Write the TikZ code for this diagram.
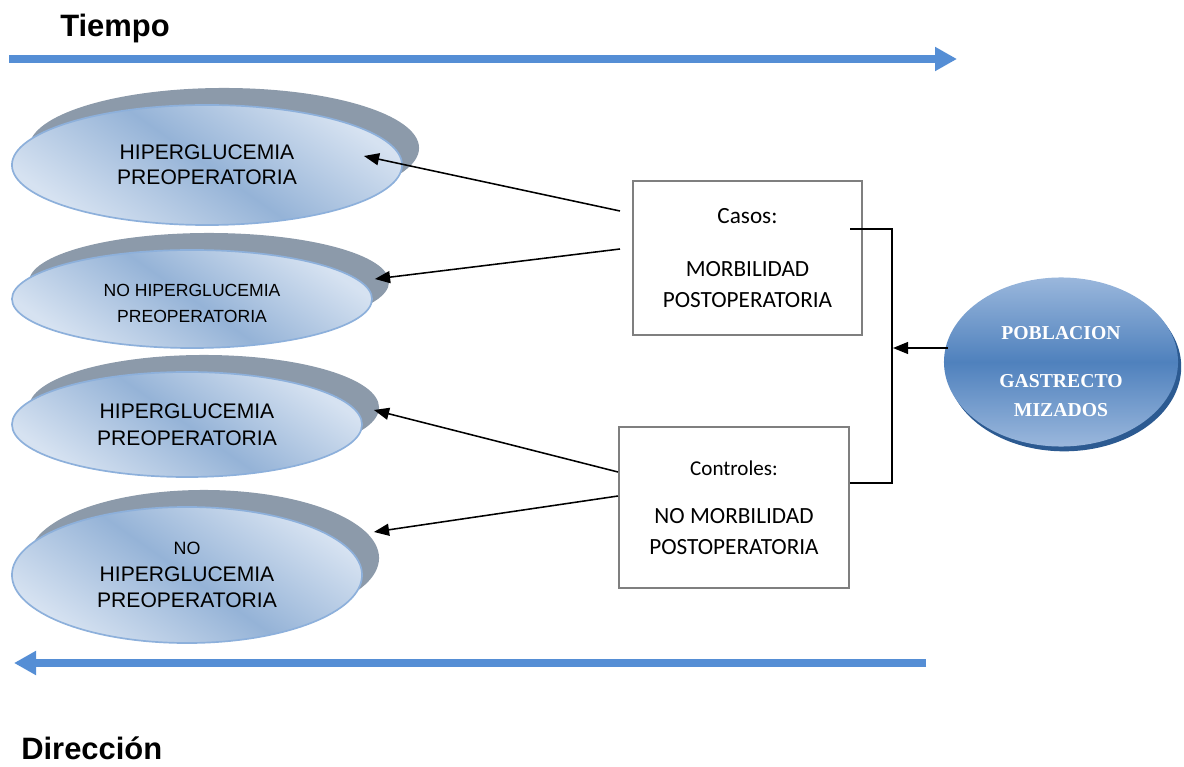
\documentclass[tikz,border=0pt]{standalone}
\usepackage{fontspec}
\setmainfont{Liberation Sans}
\newfontfamily\calibri{Carlito}
\newfontfamily\cambria{Liberation Serif}
\usetikzlibrary{shapes, arrows.meta, shadows}

\definecolor{ellLight}{HTML}{D6E2F1}
\definecolor{ellDark}{HTML}{95B3D7}
\definecolor{ellLine}{HTML}{8DB0DB}
\definecolor{shadowGray}{HTML}{8C9AAA}
\definecolor{arrowBlue}{HTML}{558ED5}
\definecolor{popTop}{HTML}{9AB7DC}
\definecolor{popMid}{HTML}{4F81BD}
\definecolor{popShadow}{HTML}{2C5A91}
\definecolor{boxLine}{HTML}{7F7F7F}

\begin{document}
\begin{tikzpicture}[x=0.025cm, y=-0.025cm,
    ->,
    >={Triangle[length=0.38cm, width=0.3cm]},
    every edge/.style={draw, line width=1.1pt},
    ell/.style={%
      ellipse, draw=ellLine, line width=1.2pt, inner sep=0pt,
      top color=ellLight, bottom color=ellLight, middle color=ellDark,
      shading angle=-35, align=center,
      general shadow={fill=shadowGray, shadow xshift=0.425cm, shadow yshift=0.425cm}
    },
    bb/.style={%
      rectangle, draw=boxLine, line width=1.4pt, fill=white,
      inner sep=0pt, align=center, font=\calibri\fontsize{16.5}{22}\selectfont
    },
    pop/.style={%
      ellipse, draw=none, inner sep=0pt, align=center, text=white,
      top color=popTop, bottom color=popTop, middle color=popMid,
      general shadow={fill=popShadow, shadow xshift=0.08cm, shadow yshift=-0.12cm},
      font=\cambria\bfseries\fontsize{14}{20}\selectfont
    },
    title/.style={anchor=base west, inner sep=0pt, font=\bfseries\fontsize{22}{26}\selectfont},
    timeline/.style={draw=arrowBlue, line width=0.2cm, -{Triangle[length=0.55cm, width=0.57cm]}}
]
    \useasboundingbox (0,0) rectangle (1184,767);

    % time direction
    \node[title] (tiempo) at (60,37) {Tiempo};
    \node[title] (direccion) at (21,759) {Dirección};
    \coordinate (t0) at (9,59);
    \coordinate (t1) at (957,59);
    \coordinate (d0) at (926,663);
    \coordinate (d1) at (14,663);
    \draw[timeline] (t0) -- (t1);
    \draw[timeline] (d0) -- (d1);

    % exposures
    \node[ell, minimum width=9.75cm, minimum height=3cm,
          font=\fontsize{15}{17.7}\selectfont] (e1) at (207,165)
          {HIPERGLUCEMIA\\PREOPERATORIA};
    \node[ell, minimum width=9cm, minimum height=2.45cm,
          font=\fontsize{12.5}{18.4}\selectfont] (e2) at (192,299)
          {\rule{0pt}{0.55cm}NO HIPERGLUCEMIA\\PREOPERATORIA};
    \node[ell, minimum width=8.75cm, minimum height=2.625cm,
          font=\fontsize{15}{19}\selectfont] (e3) at (187,424.5)
          {HIPERGLUCEMIA\\PREOPERATORIA};
    \node[ell, minimum width=8.75cm, minimum height=3.4cm,
          font=\fontsize{15}{19}\selectfont] (e4) at (187,575)
          {{\fontsize{12.7}{19}\selectfont NO}\\HIPERGLUCEMIA\\PREOPERATORIA};

    % cases and controls
    \node[bb, minimum width=5.725cm, minimum height=3.85cm] (casos) at (747.5,258)
          {Casos:\\[0.575cm]MORBILIDAD\\POSTOPERATORIA};
    \node[bb, minimum width=5.75cm, minimum height=4.025cm] (controles) at (734,507.5)
          {{\fontsize{15}{22}\selectfont Controles:}\\[0.425cm]NO MORBILIDAD\\POSTOPERATORIA};

    \node[pop, minimum width=5.85cm, minimum height=4.225cm] (pop) at (1061,362)
          {\rule{0pt}{0.8cm}POBLACION\\[0.5cm]GASTRECTO\\MIZADOS};

    \coordinate (jin)  at (850,229);
    \coordinate (jtop) at (892,229);
    \coordinate (jmid) at (893,348);
    \coordinate (jbot) at (892,483);
    \draw[-, line width=1.1pt] (jin) -- (jtop) -- (jbot) -- (controles.east |- jbot);

    \path ([shift={(-12,-47)}]casos.west) edge ([shift={(-39,-9)}]e1.east)
          ([shift={(-12,-9)}]casos.west)  edge ([shift={(2,-20)}]e2.east)
          ([shift={(0,-35.5)}]controles.west) edge ([shift={(11,-14.5)}]e3.east)
          ([shift={(0,-11.5)}]controles.west) edge ([shift={(11,-43)}]e4.east)
          ([shift={(4,-14)}]pop.west) edge (jmid)
    ;

\end{tikzpicture}
\end{document}
